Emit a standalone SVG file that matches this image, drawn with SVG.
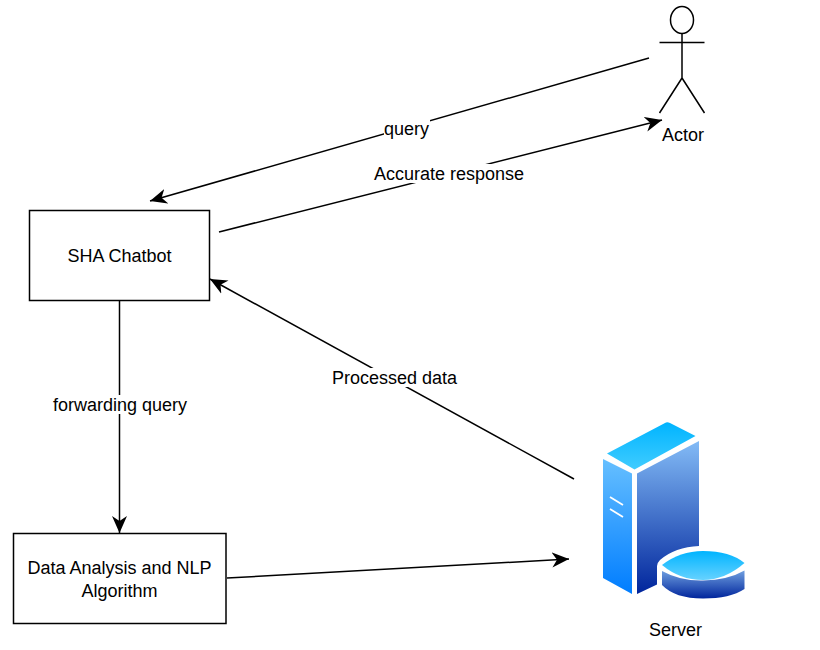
<svg xmlns="http://www.w3.org/2000/svg" width="820" height="650" viewBox="0 0 820 650">
<style>
text{font-family:"Liberation Sans",Arial,sans-serif;font-size:18px;fill:#000;text-anchor:middle}
.box{fill:#fff;stroke:#000;stroke-width:1.5}
.edge{fill:none;stroke:#000;stroke-width:1.5;marker-end:url(#arrow)}
.bg{fill:#fff}
.act{fill:#fff;stroke:#000;stroke-width:1.5}
</style>
<defs>
<marker id="arrow" markerUnits="userSpaceOnUse" markerWidth="18" markerHeight="16" refX="17" refY="8" orient="auto" viewBox="0 0 18 16">
<path d="M0 0.500L17 8L0 15.500L5 8Z" fill="#000"/>
</marker>
<linearGradient id="top" x1="0" y1="0" x2="0" y2="1"><stop offset="0" stop-color="#00b4ff"/><stop offset="1" stop-color="#40ccff"/></linearGradient>
<linearGradient id="left" x1="0" y1="0" x2="0" y2="1"><stop offset="0" stop-color="#66bfff"/><stop offset="1" stop-color="#007dff"/></linearGradient>
<linearGradient id="right" x1="0" y1="0" x2="0" y2="1"><stop offset="0" stop-color="#83bbf6"/><stop offset="1" stop-color="#00259c"/></linearGradient>
<linearGradient id="dtop" x1="0" y1="0" x2="0" y2="1"><stop offset="0" stop-color="#00b4ff"/><stop offset="1" stop-color="#66d2ff"/></linearGradient>
<linearGradient id="dside" x1="0" y1="0" x2="0" y2="1"><stop offset="0" stop-color="#6f9fe0"/><stop offset="1" stop-color="#00259c"/></linearGradient>
</defs>
<g id="connectors">
<path class="edge" d="M649 58L150 201"/>
<path class="edge" d="M219 232L662 120"/>
<path class="edge" d="M119.500 301V533"/>
<path class="edge" d="M574 479L210 279"/>
<path class="edge" d="M227 578L569 559"/>
<rect class="bg" x="384" y="120" width="46" height="19"/>
<text x="406.500" y="135">query</text>
<rect class="bg" x="374" y="164" width="150" height="19"/>
<text x="449" y="179.500">Accurate response</text>
<rect class="bg" x="53" y="395" width="134" height="19"/>
<text x="120" y="410.500">forwarding query</text>
<rect class="bg" x="332" y="368" width="125" height="19"/>
<text x="394.500" y="383.500">Processed data</text>
</g>
<g id="chatbot">
<rect class="box" x="29.500" y="210.500" width="180" height="90"/>
<text x="119.500" y="261.500">SHA Chatbot</text>
</g>
<g id="nlp">
<rect class="box" x="13.500" y="533.500" width="212.500" height="90"/>
<text x="119.500" y="573.500">Data Analysis and NLP</text>
<text x="119.500" y="596.500">Algorithm</text>
</g>
<g id="actor">
<ellipse class="act" cx="682" cy="20" rx="11.500" ry="13.500"/>
<path class="act" fill="none" d="M682 33.500V78M659.500 42.500H704.500M659.500 113L682 78L704.500 113"/>
<text x="683" y="141">Actor</text>
</g>
<g id="server">
<path d="M607 453.500L665 423Q667 421.500 670 423L695.500 436L634.500 469.500Z" fill="url(#top)"/>
<path d="M603 459L632 473.500V594L603 578Z" fill="url(#left)"/>
<path d="M637 473.500L699 441V546Q675 547 660 560Q657 563 657 566V584.500L637 594Z" fill="url(#right)"/>
<path d="M610 497L623 505M610 509L623 517" stroke="#fff" stroke-width="1.800" fill="none"/>
<path d="M662 565Q680 551 703 551Q730 551 744.500 563Q725 580 703 580Q680 580 662 565Z" fill="url(#dtop)"/>
<path d="M662 571Q680 581 703 580.500Q728 580 744.500 570.500V589Q730 598.500 703 598.500Q675 598.500 662 585Z" fill="url(#dside)"/>
<text x="675.500" y="635.500">Server</text>
</g>
</svg>
